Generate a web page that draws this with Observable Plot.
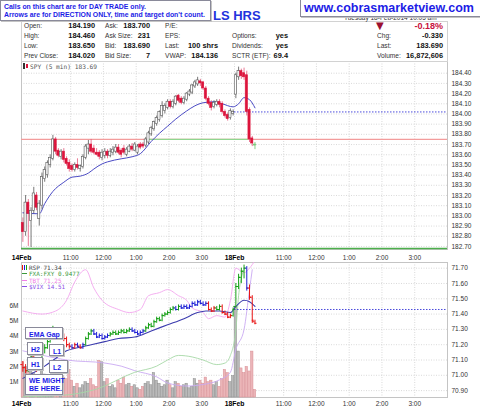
<!DOCTYPE html>
<html>
<head>
<meta charset="utf-8">
<script src="https://cdn.jsdelivr.net/npm/d3@7"></script>
<script src="https://cdn.jsdelivr.net/npm/@observablehq/plot@0.6"></script>
<style>
  html,body{margin:0;padding:0;background:#fff;}
  #wrap{position:relative;width:480px;height:406px;overflow:hidden;font-family:"Liberation Sans",Arial,sans-serif;background:#fff;}
  .a{position:absolute;white-space:nowrap;line-height:8px;height:8px;z-index:5;}
  .lb{font-size:6.6px;color:#333;}
  .v{font-size:7.4px;font-weight:bold;color:#111;text-align:right;}
  .box{position:absolute;background:#fff;border:1px solid #8a8a9a;box-shadow:1px 1px 0 #c4c4c4;color:#1c1ce6;font-weight:bold;box-sizing:border-box;white-space:nowrap;z-index:8;}
  .ann{font-size:7px;line-height:8px;padding:2px 0 0 3px;}
  .leg{position:absolute;font-family:"DejaVu Sans Mono",monospace;font-size:6px;line-height:7px;height:7px;white-space:nowrap;z-index:6;}
  .mk{position:absolute;z-index:6;}
</style>
</head>
<body>
<div id="wrap"></div>
<script>
// ---------------- DATA ----------------
const dayLabels = ["14Feb", "18Feb"];
const barsPerDay = 78;                 // 5-min bars, 9:30–4:00
const clockHours = [11, 12, 13, 14, 15];
const clockLabels = ["11:00", "12:00", "1:00", "2:00", "3:00"];
const priceTicks = [182.70,182.80,182.90,183.00,183.10,183.20,183.30,183.40,183.50,183.60,183.70,183.80,183.90,184.00,184.10,184.20,184.30,184.40];
const rspTicks = [70.90,71.00,71.10,71.20,71.30,71.40,71.50,71.60,71.70];
const volTicks = [1,2,3,4,5,6];

// SPY 5-min candles [open, high, low, close]
const spyBars = [
[182.93,182.98,182.74,182.84],[182.84,183.20,182.80,183.13],[183.13,183.16,182.70,183.02],[182.95,183.08,182.69,183.05],
[183.05,183.28,183.02,183.22],[183.20,183.23,183.05,183.08],[182.97,183.15,182.90,183.12],[183.10,183.42,183.06,183.38],
[183.36,183.48,183.33,183.45],[183.40,183.54,183.37,183.52],[183.50,183.60,183.47,183.57],[183.56,183.79,183.54,183.75],
[183.75,183.77,183.60,183.63],[183.64,183.66,183.57,183.59],[183.58,183.65,183.55,183.63],[183.63,183.66,183.52,183.55],
[183.56,183.58,183.49,183.51],[183.52,183.55,183.43,183.46],[183.49,183.51,183.43,183.45],[183.45,183.52,183.43,183.50],
[183.50,183.56,183.45,183.47],[183.46,183.50,183.43,183.49],[183.48,183.60,183.46,183.58],[183.57,183.70,183.55,183.68],
[183.66,183.74,183.60,183.70],[183.70,183.75,183.61,183.63],[183.66,183.69,183.60,183.62],[183.62,183.66,183.59,183.60],
[183.62,183.64,183.55,183.58],[183.57,183.65,183.54,183.62],[183.59,183.66,183.56,183.63],[183.63,183.65,183.56,183.59],
[183.59,183.66,183.57,183.63],[183.62,183.68,183.59,183.65],[183.63,183.70,183.61,183.67],[183.67,183.70,183.60,183.62],
[183.64,183.66,183.57,183.60],[183.66,183.69,183.60,183.62],[183.60,183.67,183.58,183.65],[183.63,183.70,183.62,183.68],
[183.68,183.71,183.63,183.65],[183.64,183.72,183.63,183.70],[183.62,183.70,183.60,183.68],[183.70,183.72,183.65,183.67],
[183.70,183.72,183.66,183.68],[183.69,183.77,183.67,183.75],[183.72,183.83,183.70,183.81],[183.80,183.88,183.78,183.86],
[183.85,183.93,183.83,183.92],[183.90,183.98,183.88,183.96],[183.94,184.03,183.92,184.02],[183.98,184.12,183.96,184.08],
[184.03,184.10,184.00,184.08],[184.06,184.14,184.04,184.12],[184.12,184.14,184.05,184.07],[184.07,184.14,184.05,184.12],
[184.10,184.18,184.08,184.17],[184.18,184.19,184.11,184.13],[184.15,184.17,184.09,184.11],[184.11,184.17,184.09,184.15],
[184.14,184.21,184.12,184.20],[184.19,184.24,184.17,184.22],[184.21,184.29,184.19,184.28],[184.27,184.33,184.25,184.31],
[184.29,184.36,184.27,184.33],[184.32,184.34,184.27,184.30],[184.31,184.32,184.23,184.25],[184.25,184.27,184.13,184.15],
[184.15,184.17,184.08,184.10],[184.11,184.13,184.03,184.06],[184.07,184.13,184.05,184.11],[184.09,184.14,184.07,184.12],
[184.12,184.14,184.06,184.09],[184.10,184.12,184.00,184.02],[184.02,184.04,183.96,183.98],[183.99,184.01,183.93,183.95],
[183.96,184.05,183.94,184.03],[184.00,184.04,183.98,184.02],
[184.19,184.40,184.15,184.38],[184.36,184.46,184.33,184.42],[184.42,184.44,184.34,184.37],[184.40,184.45,184.33,184.36],
[184.38,184.42,183.98,184.02],[184.04,184.06,183.72,183.75],[183.76,183.78,183.68,183.71],[183.70,183.72,183.65,183.69]
];
const spyEmaBar = [0,6,8,11,15,18,21,24,26,29,31,36,40,43,47,50,53,56,60,63,66,70,73,77,79,81,83,85];
const spyEmaVal = [183.03,183.02,183.12,183.24,183.33,183.38,183.39,183.42,183.46,183.51,183.53,183.56,183.58,183.61,183.73,183.81,183.88,183.95,184.03,184.08,184.11,184.12,184.10,184.07,184.10,184.16,184.14,184.06];
const supportLevel = 183.75;
const supportBars = [46, 83];
const prevClose = 184.02;
const lowGuide = 182.68;

// RSP 5-min bars [open, high, low, close] and trend colour code
const rspBars = [
[71.07,71.09,71.02,71.05],[71.05,71.07,71.01,71.03],[71.03,71.10,71.02,71.08],[71.08,71.15,71.07,71.12],[71.12,71.13,71.05,71.06],
[71.06,71.08,71.02,71.04],[71.04,71.11,71.03,71.10],[71.10,71.17,71.09,71.15],[71.15,71.20,71.14,71.18],[71.18,71.24,71.17,71.22],
[71.22,71.30,71.21,71.28],[71.28,71.32,71.26,71.30],[71.30,71.31,71.25,71.26],[71.26,71.28,71.24,71.27],[71.27,71.28,71.24,71.26],
[71.26,71.27,71.22,71.24],[71.24,71.25,71.18,71.20],[71.20,71.21,71.17,71.19],[71.19,71.20,71.17,71.18],[71.18,71.21,71.17,71.20],
[71.20,71.21,71.18,71.19],[71.19,71.20,71.17,71.18],[71.18,71.21,71.17,71.20],[71.20,71.25,71.19,71.24],[71.24,71.28,71.23,71.27],
[71.27,71.30,71.26,71.29],[71.29,71.30,71.26,71.27],[71.27,71.28,71.24,71.25],[71.25,71.27,71.24,71.26],[71.26,71.27,71.23,71.24],
[71.24,71.26,71.23,71.25],[71.25,71.27,71.24,71.26],[71.26,71.28,71.25,71.27],[71.27,71.29,71.26,71.28],[71.28,71.29,71.26,71.27],
[71.27,71.29,71.26,71.28],[71.28,71.30,71.27,71.29],[71.29,71.30,71.27,71.28],[71.28,71.30,71.27,71.29],[71.29,71.31,71.28,71.30],
[71.30,71.31,71.28,71.29],[71.29,71.30,71.27,71.28],[71.28,71.29,71.26,71.27],[71.27,71.29,71.26,71.28],[71.28,71.30,71.27,71.29],
[71.29,71.32,71.28,71.31],[71.31,71.34,71.30,71.33],[71.33,71.34,71.31,71.32],[71.32,71.36,71.31,71.35],[71.35,71.38,71.34,71.37],
[71.37,71.38,71.35,71.36],[71.36,71.40,71.35,71.39],[71.39,71.41,71.38,71.40],[71.40,71.42,71.39,71.41],[71.41,71.44,71.40,71.43],
[71.43,71.45,71.42,71.44],[71.44,71.45,71.42,71.43],[71.43,71.46,71.42,71.45],[71.45,71.46,71.43,71.44],[71.44,71.46,71.43,71.45],
[71.45,71.46,71.43,71.44],[71.44,71.46,71.43,71.45],[71.45,71.48,71.44,71.47],[71.47,71.48,71.45,71.46],[71.46,71.49,71.45,71.48],
[71.48,71.49,71.46,71.47],[71.47,71.48,71.45,71.46],[71.46,71.48,71.45,71.47],[71.47,71.48,71.42,71.43],[71.43,71.44,71.41,71.42],
[71.42,71.45,71.41,71.44],[71.44,71.45,71.42,71.43],[71.43,71.46,71.42,71.45],[71.45,71.46,71.40,71.41],[71.41,71.42,71.39,71.40],
[71.40,71.41,71.37,71.38],[71.38,71.40,71.37,71.39],[71.39,71.44,71.38,71.43],
[71.45,71.60,71.44,71.58],[71.58,71.66,71.56,71.64],[71.64,71.70,71.60,71.68],[71.68,71.72,71.63,71.70],
[71.70,71.71,71.55,71.57],[71.57,71.59,71.49,71.51],[71.51,71.52,71.34,71.36],[71.35,71.36,71.33,71.34]
];
const rspTrend = "rrggrr" + "gggggg" + "bbbrr" + "rbrbrb" + "gggb" + "bbbbb" + "ggggg" + "gggb" + "bbbb" + "gggg" + "ggggg" + "ggbg" + "bbbb" + "bbbbbb" + "rrrgg" + "rrrrg" + "ggggbrrr";
const rspEmaBar = [0,8,12,16,20,25,30,35,41,47,53,59,64,67,72,76,78,81,83,85];
const rspEmaVal = [70.98,71.06,71.11,71.16,71.18,71.20,71.22,71.24,71.25,71.29,71.33,71.37,71.41,71.42,71.42,71.41,71.45,71.49,71.48,71.45];
const rspPrevClose = 71.43;

// Overlays (drawn on the RSP axis)
const tbtBar = [0,7,12,16,19,23,26,29,35,39,43,46,50,53,57,60,62,66,68,71,74,76,78,81,83,85];
const tbtVal = [71.42,71.40,71.42,71.49,71.61,71.69,71.57,71.49,71.43,71.41,71.43,71.52,71.54,71.56,71.52,71.49,71.44,71.41,71.37,71.39,71.38,71.49,71.70,71.67,71.70,71.75];
const vixBar = [0,10,16,30,36,41,49,53,60,66,72,76,78,81,83,84];
const vixVal = [71.16,71.12,71.10,71.08,71.06,71.03,70.99,70.95,70.93,70.94,70.97,71.02,71.17,71.30,71.56,71.69];
const fxaBar = [0,15,27,41,49,53,57,62,66,71,74,76,78,79,81];
const fxaVal = [70.86,70.87,70.91,71.02,71.06,71.10,71.13,71.12,71.10,71.07,71.08,71.13,71.30,71.52,71.69];

// Volume (millions) per bar
const volume = [2.3,2.0,1.9,2.1,1.6,1.4,1.2,1.8,1.5,1.1,0.9,1.6,1.7,1.0,0.8,1.3,1.2,1.8,1.1,0.7,
0.9,0.6,0.8,1.0,0.9,1.2,0.8,0.7,2.4,2.3,1.0,1.2,0.7,0.8,0.6,1.1,0.9,1.3,0.8,0.9,
0.7,0.8,0.6,0.5,0.7,0.9,1.0,0.8,1.6,1.1,0.9,0.7,0.8,1.1,0.8,0.6,1.0,0.9,0.7,0.8,
0.9,0.6,0.7,1.2,0.9,1.1,0.9,1.3,1.0,1.1,0.8,1.0,0.7,1.2,1.8,1.6,1.0,1.4,
5.9,3.0,1.9,1.6,2.0,1.7,3.0,0.5];

// Header
const noteLines = ["Calls on this chart are for DAY TRADE only.", "Arrows are for DIRECTION ONLY, time and target don't count."];
const titleText = "LS HRS";
const siteText = "www.cobrasmarketview.com";
const dateText = "Tuesday 18-Feb-2014 10:05 am";
const infoLabels = [["Open:","High:","Low:","Prev Close:"],["Ask:","Ask Size:","Bid:","Bid Size:"],["P/E:","EPS:","Last:","VWAP:"],["","Options:","Dividends:","SCTR (ETF):"],["","Chg:","Last:","Volume:"]];
const infoValues = [["184.190","184.460","183.650","184.020"],["183.700","231","183.690","7"],["","","100 shrs","184.136"],["","yes","yes","69.4"],["-0.18%","-0.330","183.690","16,872,606"]];
const mainLegend = "SPY (5 min) 183.69";
const lowerLegend = [["RSP 71.34","#444"],["FXA:FXY 0.9477","#3a9a3a"],["TBT 71.25","#f07ee6"],["$VIX 14.51","#8a4fe6"]];
const annotations = ["EMA Gap","H2","L1","H1","L2","WE MIGHT<br>BE HERE."];

// ---------------- BUILD ----------------
const wrap = document.getElementById("wrap");
const N = barsPerDay * 2;
const tickPos = [];
const tickLab = new Map();
for (let d = 0; d < 2; d++) clockHours.forEach((h, i) => { const p = d * barsPerDay + (h * 60 - 570) / 5; tickPos.push(p); tickLab.set(p, clockLabels[i]); });
const datePos = dayLabels.map((_, d) => d * barsPerDay);
const dateLab = new Map(datePos.map((p, i) => [p, dayLabels[i]]));
const gridPos = [...tickPos, barsPerDay];

const spy = spyBars.map(([o,h,l,c], i) => ({t: i + 0.5, o, h, l, c, up: c >= o, live: i === spyBars.length - 1}));
const spyEma = spyEmaBar.map((b, i) => ({t: b + 0.5, v: spyEmaVal[i]}));
const rsp = rspBars.map(([o,h,l,c], i) => ({t: i + 0.5, o, h, l, c, k: rspTrend[i]}));
const rspColor = {g: "#16a016", b: "#1f1fd6", r: "#e81515"};
const rspEma = rspEmaBar.map((b, i) => ({t: b + 0.5, v: rspEmaVal[i]}));
const tbt = tbtBar.map((b, i) => ({t: b + 0.5, v: tbtVal[i]}));
const vix = vixBar.map((b, i) => ({t: b + 0.5, v: vixVal[i]}));
const fxa = fxaBar.map((b, i) => ({t: b + 0.5, v: fxaVal[i]}));
const vol = volume.map((v, i) => ({t: i + 0.5, v, up: spy[i].up}));

const font = "Liberation Sans, Arial, sans-serif";
const gridStyle = {stroke: "#cfcfcf", strokeOpacity: 1, strokeDasharray: "1,1.5", strokeWidth: 0.8};
const fmt2 = d3.format(".2f");

function place(svg, top, z) {
  svg.style.position = "absolute"; svg.style.left = "0px"; svg.style.top = top + "px"; svg.style.zIndex = z;
  wrap.appendChild(svg);
}

// Main price pane
const main = Plot.plot({
  width: 480, height: 262, marginLeft: 21, marginRight: 33, marginTop: 61, marginBottom: 13,
  x: {domain: [0, N]}, y: {domain: [182.67, 184.515]},
  style: {fontFamily: font, fontSize: "6.5px", background: "#fff"},
  marks: [
    Plot.gridY(priceTicks, gridStyle),
    Plot.gridX(gridPos, gridStyle),
    Plot.frame({stroke: "#c4c4c4"}),
    Plot.ruleY([supportLevel], {stroke: "#f39c9c", strokeWidth: 1.2}),
    Plot.ruleY([supportLevel], {x1: supportBars[0], x2: supportBars[1], stroke: "#8fd68f", strokeWidth: 1.3}),
    Plot.ruleY([lowGuide], {stroke: "#4cae4c", strokeWidth: 1.3}),
    Plot.ruleY([prevClose], {x1: barsPerDay, x2: N, stroke: "#3535d8", strokeWidth: 0.9, strokeDasharray: "1.5,1.5"}),
    Plot.line(spyEma, {x: "t", y: "v", stroke: "#4a4ac4", strokeWidth: 1, curve: "monotone-x"}),
    Plot.ruleX(spy, {x: "t", y1: "l", y2: "h", strokeWidth: 0.8, stroke: d => d.live ? "#6cc46c" : d.up ? "#555" : "#e3577a"}),
    Plot.rect(spy, {x1: d => d.t - 0.4, x2: d => d.t + 0.4, y1: "o", y2: "c",
      fill: d => d.live ? "#8be08b" : d.up ? "#fff" : "#dc143c",
      stroke: d => d.live ? "#6cc46c" : d.up ? "#555" : "#dc143c", strokeWidth: 0.6}),
    Plot.axisY(priceTicks, {anchor: "right", tickSize: 0, tickPadding: 4, tickFormat: fmt2, fontSize: 6.5, fill: "#333", label: null}),
    Plot.axisX(tickPos, {tickSize: 0, tickPadding: 6, tickFormat: d => tickLab.get(d), fontSize: 6.5, fill: "#333", label: null}),
    Plot.axisX(datePos, {tickSize: 0, tickPadding: 6, tickFormat: d => dateLab.get(d), fontSize: 6.8, fontWeight: "bold", fill: "#000", label: null})
  ]
});
place(main, 0, 1);

// Lower pane: grid/axes (RSP scale)
const lowerDims = {width: 480, height: 144, marginLeft: 21, marginRight: 33, marginTop: 0, marginBottom: 9};
const rspDomain = [70.855, 71.737];
const lowerA = Plot.plot({
  ...lowerDims, x: {domain: [0, N]}, y: {domain: rspDomain},
  style: {fontFamily: font, fontSize: "6.5px", background: "#fff"},
  marks: [
    Plot.gridY(rspTicks, gridStyle),
    Plot.gridX(gridPos, gridStyle),
    Plot.frame({stroke: "#c4c4c4"}),
    Plot.axisY(rspTicks, {anchor: "right", tickSize: 0, tickPadding: 4, tickFormat: fmt2, fontSize: 6.5, fill: "#333", label: null}),
    Plot.axisX(tickPos, {tickSize: 0, tickPadding: 3.5, tickFormat: d => tickLab.get(d), fontSize: 6.5, fill: "#333", label: null}),
    Plot.axisX(datePos, {tickSize: 0, tickPadding: 3.5, tickFormat: d => dateLab.get(d), fontSize: 6.8, fontWeight: "bold", fill: "#000", label: null})
  ]
});
place(lowerA, 262, 1);

// Lower pane: volume (left axis)
const lowerB = Plot.plot({
  ...lowerDims, x: {domain: [0, N], axis: null}, y: {domain: [0, 8.82]},
  style: {fontFamily: font, fontSize: "6.5px", background: "transparent"},
  marks: [
    Plot.rectY(vol, {x1: d => d.t - 0.45, x2: d => d.t + 0.45, y: "v",
      fill: d => d.up ? "#b9b9b9" : "#ebb5b8", stroke: d => d.up ? "#8e8e8e" : "#d99096", strokeWidth: 0.5}),
    Plot.axisY(volTicks, {anchor: "left", tickSize: 0, tickPadding: 3, tickFormat: d => d + "M", fontSize: 6.5, fill: "#333", label: null})
  ]
});
place(lowerB, 262, 2);

// Lower pane: RSP bars and overlays
const lowerC = Plot.plot({
  ...lowerDims, x: {domain: [0, N], axis: null}, y: {domain: rspDomain, axis: null},
  style: {fontFamily: font, background: "transparent"},
  marks: [
    Plot.line(vix, {x: "t", y: "v", stroke: "#c9a9f2", strokeWidth: 0.9, curve: "monotone-x", clip: true}),
    Plot.line(tbt, {x: "t", y: "v", stroke: "#f3a6ee", strokeWidth: 0.9, curve: "monotone-x", clip: true}),
    Plot.line(fxa, {x: "t", y: "v", stroke: "#a6d8a6", strokeWidth: 0.9, curve: "monotone-x", clip: true}),
    Plot.ruleY([rspPrevClose], {x1: barsPerDay, x2: N, stroke: "#3535d8", strokeWidth: 0.9, strokeDasharray: "1.5,1.5"}),
    Plot.line(rspEma, {x: "t", y: "v", stroke: "#3c3cae", strokeWidth: 1.1, curve: "monotone-x"}),
    Plot.ruleX(rsp, {x: "t", y1: "l", y2: "h", stroke: d => rspColor[d.k], strokeWidth: 1}),
    Plot.ruleY(rsp, {y: "o", x1: d => d.t - 0.75, x2: d => d.t, stroke: d => rspColor[d.k], strokeWidth: 1}),
    Plot.ruleY(rsp, {y: "c", x1: d => d.t, x2: d => d.t + 0.75, stroke: d => rspColor[d.k], strokeWidth: 1})
  ]
});
place(lowerC, 262, 3);

// ---------------- HTML TEXT ----------------
function div(cls, text, css, html) {
  const d = document.createElement("div");
  d.className = cls;
  if (html) d.innerHTML = text; else d.textContent = text;
  Object.assign(d.style, css);
  wrap.appendChild(d);
  return d;
}
// header table border
div("mk", "", {left: "21px", top: "21px", width: "425px", height: "39px", border: "1px solid #d2d2d2", zIndex: 2});
// date (partly under the site box)
div("a lb", dateText, {left: "344px", top: "14px", fontSize: "6.5px", zIndex: 4});
// note box
const note = div("box", "", {left: "0px", top: "0px", width: "211px", height: "21px", padding: "1.5px 0 0 3px", fontSize: "6.9px", lineHeight: "8.4px"});
note.innerHTML = noteLines.join("<br>");
// title
div("a", titleText, {left: "213px", top: "9px", fontSize: "13px", lineHeight: "13px", height: "13px", fontWeight: "bold", color: "#2233dd"});
// site box
div("box", siteText, {left: "300px", top: "-1px", width: "182px", height: "18px", padding: "0 0 0 3px", fontSize: "12.5px", lineHeight: "17px"});

const colLabelX = [24, 105, 165, 232, 377];
const colValueX = [95, 150, 218, 288, 443];
const rowY = [26, 36, 46, 56];
infoLabels.forEach((col, c) => col.forEach((t, r) => {
  if (t) div("a lb", t, {left: colLabelX[c] + "px", top: (rowY[r] - 4) + "px"});
}));
infoValues.forEach((col, c) => col.forEach((t, r) => {
  if (!t) return;
  const css = {right: (480 - colValueX[c]) + "px", top: (rowY[r] - 4) + "px"};
  if (c === 4 && r === 0) Object.assign(css, {fontSize: "9px", color: "#c8103c", top: (rowY[r] - 5) + "px", height: "10px", lineHeight: "10px"});
  div("a v", t, css);
}));
div("a", "▼", {left: "376px", top: "21px", fontSize: "10px", lineHeight: "10px", height: "10px", color: "#9b1030", fontFamily: "DejaVu Sans"});

// main legend
div("mk", "", {left: "23px", top: "63px", width: "1.5px", height: "6px", background: "#333"});
div("mk", "", {left: "26px", top: "64px", width: "1.5px", height: "4px", background: "#dc143c"});
div("leg", mainLegend, {left: "30px", top: "62.5px", color: "#555", fontSize: "6.2px"});

// lower legend
lowerLegend.forEach(([t, col], i) => {
  const y = 263.5 + i * 6.5;
  if (i === 0) {
    ["#e81515", "#1f1fd6", "#16a016"].forEach((c, j) => div("mk", "", {left: (22 + j * 2) + "px", top: (y + 1) + "px", width: "1px", height: "5px", background: c}));
  } else {
    div("mk", "", {left: "22px", top: (y + 3) + "px", width: "5px", height: "1px", background: col});
  }
  div("leg", t, {left: "29px", top: y + "px", color: col});
});

// annotation boxes
const annBoxes = [[25,327,38,12],[27,342,16,13],[49,344,15,12],[27,357,16,13],[49,360,19,13],[25,374,38,21]];
annotations.forEach((t, i) => {
  const [x, y, w, h] = annBoxes[i];
  div("box ann", t, {left: x + "px", top: y + "px", width: w + "px", height: h + "px", paddingTop: (i === 5 ? 2 : 2.5) + "px"}, true);
});
</script>
</body>
</html>
